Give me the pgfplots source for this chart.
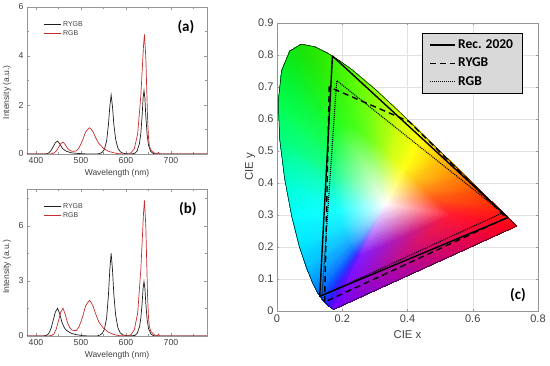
\documentclass[border=0pt]{standalone}
\usepackage{fontspec}
\setmainfont{Liberation Sans}
\newfontfamily\carlito{Carlito}
\usepackage{pgfplots}
\usepackage{pgfplotstable}
\pgfplotsset{compat=1.18}
\usepgfplotslibrary{patchplots}
\definecolor{spred}{RGB}{200,45,45}
\definecolor{spblk}{RGB}{30,30,30}
\definecolor{txtgray}{RGB}{64,64,64}
\definecolor{axgray}{RGB}{150,150,150}
\definecolor{gridgray}{RGB}{225,225,225}
\definecolor{legfill}{RGB}{217,217,217}

\pgfplotstableread{
lam I
380 0
418 0
423 0.01
428 0.04
433 0.13
438 0.29
443 0.46
448 0.53
453 0.41
458 0.25
463 0.16
468 0.11
478 0.05
488 0.03
503 0.01
518 0
535 0
542 0.02
547 0.07
552 0.19
557 0.53
561 1.21
564 1.93
567 2.41
570 1.93
573 1.21
577 0.60
582 0.24
587 0.10
592 0.04
600 0.01
610 0
620 0.03
625 0.13
630 0.44
633 0.85
636 1.61
638 2.28
640 2.59
642 2.28
644 1.55
647 0.78
650 0.36
655 0.10
660 0.03
665 0
780 0
}\blackA

\pgfplotstableread{
lam I
380 0
430 0
435 0.01
440 0.04
445 0.12
450 0.27
455 0.42
460 0.49
465 0.38
470 0.23
475 0.15
480 0.11
485 0.11
490 0.13
495 0.24
500 0.41
505 0.63
510 0.89
515 1.01
519 1.07
523 1.00
527 0.90
531 0.73
535 0.58
540 0.42
545 0.33
550 0.23
555 0.18
560 0.12
565 0.09
570 0.06
578 0.03
585 0.01
595 0
605 0
611 0.05
615 0.14
618.5 0.22
622 0.50
626 0.83
629 1.50
633 2.39
636 3.42
639 4.44
641 4.88
644 3.95
646 2.68
648 1.41
650 0.68
652 0.33
655 0.17
659 0.10
664 0.03
668 0.01
670 0.01
672 0.07
674 0.01
680 0
780 0
}\redA

\pgfplotstableread{
lam I
380 0
410 0
418 0.01
423 0.03
428 0.12
433 0.38
438 0.83
443 1.30
448 1.51
453 1.18
458 0.72
463 0.45
468 0.30
478 0.15
488 0.08
503 0.02
518 0
535 0
542 0.05
547 0.14
552 0.36
557 0.99
561 2.25
564 3.60
567 4.50
570 3.60
573 2.25
577 1.13
582 0.45
587 0.18
592 0.07
600 0.02
610 0.01
620 0.03
625 0.15
630 0.50
633 0.98
636 1.84
638 2.60
640 2.96
642 2.60
644 1.78
647 0.89
650 0.41
655 0.12
660 0.03
665 0
780 0
}\blackB

\pgfplotstableread{
lam I
380 0
425 0
430 0.01
435 0.03
440 0.12
445 0.38
450 0.83
455 1.30
460 1.51
465 1.18
470 0.72
475 0.46
480 0.32
485 0.30
490 0.30
495 0.48
500 0.78
505 1.16
510 1.63
515 1.82
519 1.94
523 1.80
527 1.62
531 1.31
535 1.05
540 0.75
545 0.58
550 0.42
555 0.33
560 0.22
565 0.16
570 0.11
578 0.05
585 0.02
595 0.01
605 0.01
611 0.07
615 0.21
618.5 0.33
622 0.76
626 1.25
629 2.27
633 3.62
636 5.17
639 6.72
641 7.38
644 5.98
646 4.06
648 2.14
650 1.03
652 0.50
655 0.26
659 0.15
664 0.05
668 0.02
670 0.01
672 0.10
674 0.01
680 0
780 0
}\redB

\pgfplotsset{
  specax/.style={
    scale only axis, width=180pt, height=147pt,
    xmin=380, xmax=780,
    xtick={400,500,600,700}, minor xtick={450,550,650,750},
    tick align=inside, major tick length=3pt, minor tick length=2pt,
    axis line style={axgray}, tick style={axgray},
    tick label style={font=\fontsize{8.7}{9}\selectfont, text=txtgray},
    label style={font=\fontsize{8.5}{9}\selectfont, text=txtgray},
    /pgf/number format/assume math mode=true,
    xlabel={Wavelength (nm)}, ylabel={Intensity (a.u.)},
    xlabel style={at={(axis description cs:0.5,-0.13)}, anchor=center},
    legend cell align=left,
    legend style={draw=none, fill=none, at={(0.075,0.925)}, anchor=north west,
      font=\fontsize{7}{7.5}\selectfont, text=txtgray, row sep=-0.5pt,
      nodes={inner sep=1.5pt}},
  }
}

\begin{document}
\begin{tikzpicture}
\useasboundingbox (0pt,0pt) rectangle (550pt,365pt);

% ---------- panel (a)
\begin{axis}[specax, at={(27pt,358pt)}, anchor=north west,
  legend image code/.code={\draw[#1, line width=0.9pt] (0pt,0pt) -- (17pt,0pt);},
  ymin=0, ymax=6, ytick={0,2,4,6}, minor ytick={1,3,5},
  ylabel style={at={(axis description cs:-0.111,0.42)}, anchor=center}]
\addplot[spblk, line width=0.7pt] table[x=lam, y=I] {\blackA};
\addlegendentry{RYGB}
\addplot[spred, line width=0.7pt] table[x=lam, y=I] {\redA};
\addlegendentry{RGB}
\node[font=\carlito\bfseries\fontsize{15}{16}\selectfont] at (axis description cs:0.883,0.864) {(a)};
\end{axis}

% ---------- panel (b)
\begin{axis}[specax, at={(27pt,176pt)}, anchor=north west,
  legend image code/.code={\draw[#1, line width=0.9pt] (0pt,0pt) -- (17pt,0pt);},
  ymin=0, ymax=8, ytick={0,3,6}, minor ytick={1.5,4.5,7.5},
  ylabel style={at={(axis description cs:-0.111,0.47)}, anchor=center}]
\addplot[spblk, line width=0.7pt] table[x=lam, y=I] {\blackB};
\addlegendentry{RYGB}
\addplot[spred, line width=0.7pt] table[x=lam, y=I] {\redB};
\addlegendentry{RGB}
\node[font=\carlito\bfseries\fontsize{15}{16}\selectfont] at (axis description cs:0.894,0.864) {(b)};
\end{axis}

% ---------- panel (c)
\begin{axis}[scale only axis, width=261pt, height=288pt,
  at={(277pt,342pt)}, anchor=north west,
  xmin=0, xmax=0.8, ymin=0, ymax=0.9,
  xtick={0,0.2,0.4,0.6,0.8}, ytick={0,0.1,0.2,0.3,0.4,0.5,0.6,0.7,0.8,0.9},
  xticklabels={0,0.2,0.4,0.6,0.8},
  yticklabels={0,0.1,0.2,0.3,0.4,0.5,0.6,0.7,0.8,0.9},
  grid=major, grid style={gridgray, line width=0.5pt},
  tick align=inside, major tick length=2pt,
  axis line style={axgray}, tick style={axgray},
  tick label style={font=\fontsize{11}{12}\selectfont, text=txtgray},
  label style={font=\fontsize{11.3}{12}\selectfont, text=txtgray},
  xlabel={CIE x}, ylabel={CIE y},
  xlabel style={at={(axis description cs:0.5,-0.083)}, anchor=center},
  ylabel style={at={(axis description cs:-0.103,0.5)}, anchor=center},
  legend cell align=left,
  legend image code/.code={\draw[#1] (0pt,0pt) -- (25pt,0pt);},
  legend style={at={(0.556,0.965)}, anchor=north west, fill=legfill, draw=black,
    font=\carlito\bfseries\fontsize{13.5}{14}\selectfont, row sep=3pt,
    inner xsep=7pt, inner ysep=4pt, nodes={inner sep=2.5pt}},
]
\addplot[patch, patch type=triangle, shader=interp, mesh/color input=explicit,
  point meta=explicit symbolic, forget plot, table/row sep=\\,
  patch table={
0 27 28\\ 0 28 29\\ 0 29 30\\ 0 30 31\\ 0 31 32\\ 0 32 33\\ 0 33 34\\ 0 34 35\\
0 35 36\\ 0 36 37\\ 0 37 38\\ 0 38 39\\ 0 39 40\\ 0 40 41\\ 0 41 42\\ 0 42 43\\
0 43 44\\ 0 44 45\\ 0 45 46\\ 0 46 47\\ 0 47 48\\ 0 48 49\\ 0 49 50\\ 0 50 51\\
0 51 52\\ 0 52 27\\
27 1 2\\ 27 2 28\\ 28 2 3\\ 28 3 29\\ 29 3 4\\ 29 4 30\\ 30 4 5\\ 30 5 31\\
31 5 6\\ 31 6 32\\ 32 6 7\\ 32 7 33\\ 33 7 8\\ 33 8 34\\ 34 8 9\\ 34 9 35\\
35 9 10\\ 35 10 36\\ 36 10 11\\ 36 11 37\\ 37 11 12\\ 37 12 38\\ 38 12 13\\ 38 13 39\\
39 13 14\\ 39 14 40\\ 40 14 15\\ 40 15 41\\ 41 15 16\\ 41 16 42\\ 42 16 17\\ 42 17 43\\
43 17 18\\ 43 18 44\\ 44 18 19\\ 44 19 45\\ 45 19 20\\ 45 20 46\\ 46 20 21\\ 46 21 47\\
47 21 22\\ 47 22 48\\ 48 22 23\\ 48 23 49\\ 49 23 24\\ 49 24 50\\ 50 24 25\\ 50 25 51\\
51 25 26\\ 51 26 52\\ 52 26 1\\ 52 1 27\\
}] table[meta=c, row sep=\\] {
x y c\\
0.3333 0.3333 rgb=1,1,1\\
0.1741 0.0050 rgb=0.45,0,1\\
0.1644 0.0109 rgb=0.35,0,1\\
0.1510 0.0227 rgb=0.15,0.1,1\\
0.1355 0.0399 rgb=0,0.3,1\\
0.1241 0.0578 rgb=0,0.45,1\\
0.1096 0.0868 rgb=0,0.6,1\\
0.0913 0.1327 rgb=0,0.75,1\\
0.0687 0.2007 rgb=0,0.9,1\\
0.0454 0.2950 rgb=0,1,1\\
0.0235 0.4127 rgb=0,1,0.8\\
0.0082 0.5384 rgb=0,1,0.5\\
0.0039 0.6548 rgb=0,1,0.3\\
0.0139 0.7502 rgb=0,0.95,0.18\\
0.0389 0.8120 rgb=0.05,0.9,0.08\\
0.0743 0.8338 rgb=0.1,0.88,0.03\\
0.1142 0.8262 rgb=0.15,0.9,0\\
0.1547 0.8059 rgb=0.2,0.93,0\\
0.2296 0.7543 rgb=0.35,1,0\\
0.3016 0.6923 rgb=0.55,1,0\\
0.3731 0.6245 rgb=0.8,1,0\\
0.4441 0.5547 rgb=1,1,0\\
0.5125 0.4866 rgb=1,0.75,0\\
0.5752 0.4242 rgb=1,0.5,0\\
0.6270 0.3725 rgb=1,0.3,0\\
0.6915 0.3083 rgb=1,0.1,0.05\\
0.7347 0.2653 rgb=1,0,0.1\\
0.2537 0.1692 rgb=0.505,0.1,1\\
0.2489 0.1721 rgb=0.415,0.1,1\\
0.2422 0.1780 rgb=0.235,0.19,1\\
0.2344 0.1866 rgb=0.1,0.37,1\\
0.2287 0.1956 rgb=0.1,0.505,1\\
0.2215 0.2101 rgb=0.1,0.64,1\\
0.2123 0.2330 rgb=0.1,0.775,1\\
0.2010 0.2670 rgb=0.1,0.91,1\\
0.1894 0.3142 rgb=0.1,1,1\\
0.1784 0.3730 rgb=0.1,1,0.82\\
0.1708 0.4359 rgb=0.1,1,0.55\\
0.1686 0.4941 rgb=0.1,1,0.37\\
0.1736 0.5418 rgb=0.1,1,0.235\\
0.1861 0.5727 rgb=0.145,1,0.145\\
0.2038 0.5836 rgb=0.19,1,0.1\\
0.2238 0.5798 rgb=0.235,1,0.1\\
0.2440 0.5696 rgb=0.28,1,0.1\\
0.2815 0.5438 rgb=0.415,1,0.1\\
0.3175 0.5128 rgb=0.595,1,0.1\\
0.3532 0.4789 rgb=0.82,1,0.1\\
0.3887 0.4440 rgb=1,1,0.1\\
0.4229 0.4100 rgb=1,0.775,0.1\\
0.4543 0.3788 rgb=1,0.55,0.1\\
0.4802 0.3529 rgb=1,0.37,0.1\\
0.5124 0.3208 rgb=1,0.19,0.145\\
0.5340 0.2993 rgb=1,0.1,0.19\\
};
\addplot[black, line width=0.5pt, forget plot] coordinates {
(0.1741,0.0050) (0.1714,0.0051) (0.1644,0.0109) (0.1566,0.0177) (0.1440,0.0297)
(0.1241,0.0578) (0.1096,0.0868) (0.0913,0.1327) (0.0687,0.2007) (0.0454,0.2950)
(0.0235,0.4127) (0.0082,0.5384) (0.0039,0.6548) (0.0139,0.7502) (0.0389,0.8120)
(0.0743,0.8338) (0.1142,0.8262) (0.1547,0.8059) (0.1929,0.7816) (0.2296,0.7543)
(0.3016,0.6923) (0.3731,0.6245) (0.4441,0.5547) (0.5125,0.4866) (0.5752,0.4242)
(0.6270,0.3725) (0.6658,0.3340) (0.6915,0.3083) (0.7190,0.2809) (0.7347,0.2653)
(0.1741,0.0050)};
\addplot[black, line width=1.4pt, line join=round] coordinates {
(0.708,0.292) (0.170,0.797) (0.131,0.046) (0.708,0.292)};
\addlegendentry{Rec. 2020}
\addplot[black, line width=1.4pt, dash pattern=on 6pt off 4pt] coordinates {
(0.146,0.028) (0.160,0.700) (0.405,0.592) (0.703,0.291) (0.146,0.028)};
\addlegendentry{RYGB}
\addplot[black, line width=1.1pt, dash pattern=on 1pt off 1pt] coordinates {
(0.138,0.048) (0.183,0.720) (0.692,0.307) (0.138,0.048)};
\addlegendentry{RGB}
\node[font=\carlito\bfseries\fontsize{15}{16}\selectfont] at (axis description cs:0.923,0.056) {(c)};
\end{axis}
\end{tikzpicture}
\end{document}
